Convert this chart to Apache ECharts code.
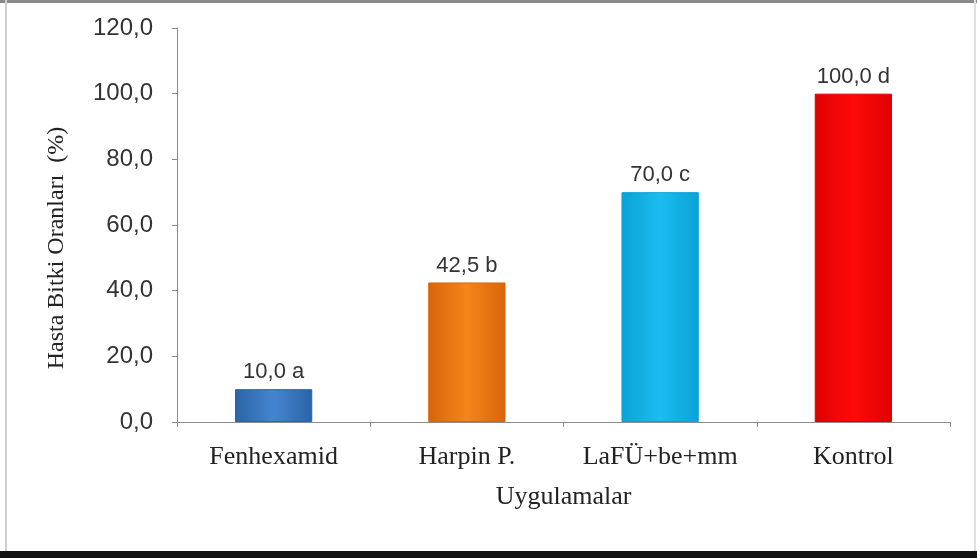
<!DOCTYPE html>
<html><head><meta charset="utf-8">
<script src="https://cdn.jsdelivr.net/npm/echarts@6/dist/echarts.min.js"></script>
<style>html,body{margin:0;padding:0;background:#fff}#c{width:977px;height:558px}</style>
</head><body><div id="c"></div>
<script>
const categories = ["Fenhexamid", "Harpin P.", "LaFÜ+be+mm", "Kontrol"];
const values = [10.0, 42.5, 70.0, 100.0];
const letters = ["a", "b", "c", "d"];
const yTicks = [0, 20, 40, 60, 80, 100, 120];
const barColors = [
  ["#2a64a8", "#4584d0", "#2a64a8"],
  ["#d9650a", "#f5841a", "#d9650a"],
  ["#0aa2d6", "#1cbcf0", "#0aa2d6"],
  ["#e00000", "#ff0a0a", "#e00000"]
];
const chart = echarts.init(document.getElementById('c'));
function grad(c){return new echarts.graphic.LinearGradient(0,0,1,0,[{offset:0,color:c[0]},{offset:0.5,color:c[1]},{offset:1,color:c[2]}]);}
chart.setOption({
  animation:false,
  grid:{left:177,right:27,top:28,bottom:136},
  xAxis:{type:'category',data:categories,
    axisLine:{lineStyle:{color:'#8c8c8c',width:1}},
    axisTick:{show:true,alignWithLabel:false,length:5,lineStyle:{color:'#8c8c8c'}},
    axisLabel:{interval:0,hideOverlap:false,fontFamily:'Liberation Serif',fontSize:26,color:'#222',margin:22},
    name:'Uygulamalar',nameLocation:'middle',nameGap:62,
    nameTextStyle:{fontFamily:'Liberation Serif',fontSize:26,color:'#222'}},
  yAxis:{type:'value',min:0,max:120,interval:20,
    axisLine:{show:true,lineStyle:{color:'#8c8c8c'}},
    axisTick:{show:true,length:5,lineStyle:{color:'#8c8c8c'}},
    splitLine:{show:false},
    axisLabel:{fontFamily:'Liberation Sans',fontSize:24,color:'#333',margin:24,
      formatter:v=>yTicks.includes(v)?v.toFixed(1).replace('.',','):''},
    name:'Hasta Bitki Oranları  (%)',nameLocation:'middle',nameGap:108,
    nameTextStyle:{fontFamily:'Liberation Serif',fontSize:24,color:'#222',padding:[0,46,0,0]}},
  series:[{type:'bar',barWidth:'40%',
    data:values.map((v,i)=>({value:v,itemStyle:{color:grad(barColors[i]),borderColor:barColors[i][0],borderWidth:1}})),
    label:{show:true,position:'top',distance:6,fontFamily:'Liberation Sans',fontSize:22,color:'#333',
      formatter:p=>p.value.toFixed(1).replace('.',',')+' '+letters[p.dataIndex]}}],
  graphic:[
    {type:'rect',shape:{x:0,y:0,width:977,height:3},style:{fill:'#8a8a8a'}},
    {type:'rect',shape:{x:5,y:0,width:2,height:558},style:{fill:'#cfcfcf'}},
    {type:'rect',shape:{x:974,y:0,width:2,height:558},style:{fill:'#e0e0e0'}},
    {type:'rect',shape:{x:0,y:551,width:977,height:7},style:{fill:'#111'}}
  ]
});
</script></body></html>
